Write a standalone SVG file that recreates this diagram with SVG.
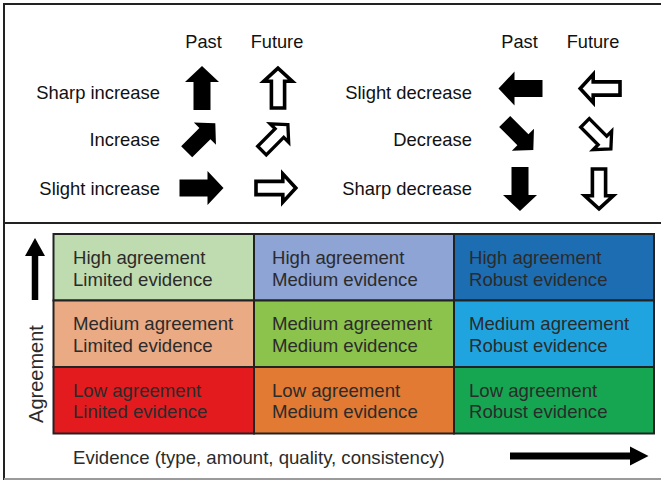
<svg xmlns="http://www.w3.org/2000/svg" xmlns:xlink="http://www.w3.org/1999/xlink" width="661" height="481" viewBox="0 0 661 481">
  <style>
    text { font-family: "Liberation Sans", Arial, sans-serif; fill: #111; }
    .lbl-r { font-size: 18.4px; text-anchor: end; }
    .hdr { font-size: 18.2px; text-anchor: middle; }
    .cell-txt { font-size: 18.6px; fill: #2b2b2b; }
    .cell { stroke: #222; stroke-width: 2; }
    .solid { fill: #000; }
    .hollow { fill: #fff; stroke: #000; stroke-width: 3.6; stroke-linejoin: miter; }
    .frame { stroke: #222; stroke-width: 2; fill: none; }
  </style>
  <defs>
    <!-- block arrow pointing right, centred on the origin -->
    <path id="blk" d="M22,0 L6,-17 L6,-8.5 L-22,-8.5 L-22,8.5 L6,8.5 L6,17 Z"/>
    <!-- outlined variant, inset so the stroked outline keeps the same size -->
    <path id="blk-o" d="M19.8,0 L6.8,-14.2 L6.8,-6.6 L-20,-6.6 L-20,6.6 L6.8,6.6 L6.8,14.2 Z"/>
  </defs>

  <rect width="661" height="481" fill="#fff"/>

  <!-- outer frame and divider -->
  <g id="frame">
    <line class="frame" x1="4" y1="4" x2="661" y2="4"/>
    <line class="frame" x1="4" y1="3" x2="4" y2="480"/>
    <line class="frame" x1="4" y1="223" x2="661" y2="223"/>
    <line x1="4" y1="479" x2="661" y2="479" stroke="#9a9a9a" stroke-width="2"/>
  </g>

  <!-- trend legend -->
  <g id="legend-headers">
    <text class="hdr" x="203.5" y="48">Past</text>
    <text class="hdr" x="277" y="48">Future</text>
    <text class="hdr" x="519.5" y="48">Past</text>
    <text class="hdr" x="593" y="48">Future</text>
  </g>

  <g id="sharp-increase">
    <text class="lbl-r" x="160" y="98.5">Sharp increase</text>
    <use href="#blk" class="solid" transform="translate(202,88) rotate(-90)"/>
    <use href="#blk-o" class="hollow" transform="translate(278,88) rotate(-90)"/>
  </g>
  <g id="increase">
    <text class="lbl-r" x="160" y="145.5">Increase</text>
    <use href="#blk" class="solid" transform="translate(201,137.5) rotate(-45) scale(0.92)"/>
    <use href="#blk-o" class="hollow" transform="translate(275,137.5) rotate(-45) scale(0.92)"/>
  </g>
  <g id="slight-increase">
    <text class="lbl-r" x="160" y="195">Slight increase</text>
    <use href="#blk" class="solid" transform="translate(201.5,188)"/>
    <use href="#blk-o" class="hollow" transform="translate(276,188)"/>
  </g>

  <g id="slight-decrease">
    <text class="lbl-r" x="472" y="98.5">Slight decrease</text>
    <use href="#blk" class="solid" transform="translate(520.5,88.5) rotate(180)"/>
    <use href="#blk-o" class="hollow" transform="translate(600,88.5) rotate(180)"/>
  </g>
  <g id="decrease">
    <text class="lbl-r" x="472" y="145.5">Decrease</text>
    <use href="#blk" class="solid" transform="translate(519,135.8) rotate(45) scale(0.92)"/>
    <use href="#blk-o" class="hollow" transform="translate(598,136) rotate(45) scale(0.92)"/>
  </g>
  <g id="sharp-decrease">
    <text class="lbl-r" x="472" y="195">Sharp decrease</text>
    <use href="#blk" class="solid" transform="translate(520,189) rotate(90)"/>
    <use href="#blk-o" class="hollow" transform="translate(599,189) rotate(90)"/>
  </g>

  <!-- agreement / evidence matrix -->
  <g id="cell-high-limited">
    <rect class="cell" x="53.5" y="234" width="200.5" height="66.5" fill="#bfdcb0"/>
    <text class="cell-txt" x="73" y="263.5">High agreement</text>
    <text class="cell-txt" x="73" y="285.5">Limited evidence</text>
  </g>
  <g id="cell-high-medium">
    <rect class="cell" x="254" y="234" width="200" height="66.5" fill="#8da4d5"/>
    <text class="cell-txt" x="272" y="263.5">High agreement</text>
    <text class="cell-txt" x="272" y="285.5">Medium evidence</text>
  </g>
  <g id="cell-high-robust">
    <rect class="cell" x="454" y="234" width="200" height="66.5" fill="#1d6db3"/>
    <text class="cell-txt" x="469" y="263.5">High agreement</text>
    <text class="cell-txt" x="469" y="285.5">Robust evidence</text>
  </g>

  <g id="cell-medium-limited">
    <rect class="cell" x="53.5" y="300.5" width="200.5" height="66.5" fill="#e9aa84"/>
    <text class="cell-txt" x="73" y="330">Medium agreement</text>
    <text class="cell-txt" x="73" y="352">Limited evidence</text>
  </g>
  <g id="cell-medium-medium">
    <rect class="cell" x="254" y="300.5" width="200" height="66.5" fill="#8bc34c"/>
    <text class="cell-txt" x="272" y="330">Medium agreement</text>
    <text class="cell-txt" x="272" y="352">Medium evidence</text>
  </g>
  <g id="cell-medium-robust">
    <rect class="cell" x="454" y="300.5" width="200" height="66.5" fill="#20a4df"/>
    <text class="cell-txt" x="469" y="330">Medium agreement</text>
    <text class="cell-txt" x="469" y="352">Robust evidence</text>
  </g>

  <g id="cell-low-limited">
    <rect class="cell" x="53.5" y="367" width="200.5" height="66.5" fill="#e31b1f"/>
    <text class="cell-txt" x="73" y="396.5">Low agreement</text>
    <text class="cell-txt" x="73" y="418">Linited evidence</text>
  </g>
  <g id="cell-low-medium">
    <rect class="cell" x="254" y="367" width="200" height="66.5" fill="#e27a33"/>
    <text class="cell-txt" x="272" y="396.5">Low agreement</text>
    <text class="cell-txt" x="272" y="418">Medium evidence</text>
  </g>
  <g id="cell-low-robust">
    <rect class="cell" x="454" y="367" width="200" height="66.5" fill="#16a651"/>
    <text class="cell-txt" x="469" y="396.5">Low agreement</text>
    <text class="cell-txt" x="469" y="418">Robust evidence</text>
  </g>

  <!-- axis labels -->
  <g id="axis-labels">
    <text class="cell-txt" transform="translate(42.5,374) rotate(-90)" text-anchor="middle" style="font-size:20px">Agreement</text>
    <text class="cell-txt" x="73" y="463.5">Evidence (type, amount, quality, consistency)</text>
  </g>

  <!-- axis arrows -->
  <g id="connectors">
    <g id="agreement-axis">
      <line x1="35" y1="300" x2="35" y2="254" stroke="#000" stroke-width="6.5"/>
      <polygon points="25,256 45,256 35,238" fill="#000"/>
    </g>
    <g id="evidence-axis">
      <line x1="510" y1="456" x2="632" y2="456" stroke="#000" stroke-width="7"/>
      <polygon points="630,446.5 630,465.5 648.5,456" fill="#000"/>
    </g>
  </g>
</svg>
